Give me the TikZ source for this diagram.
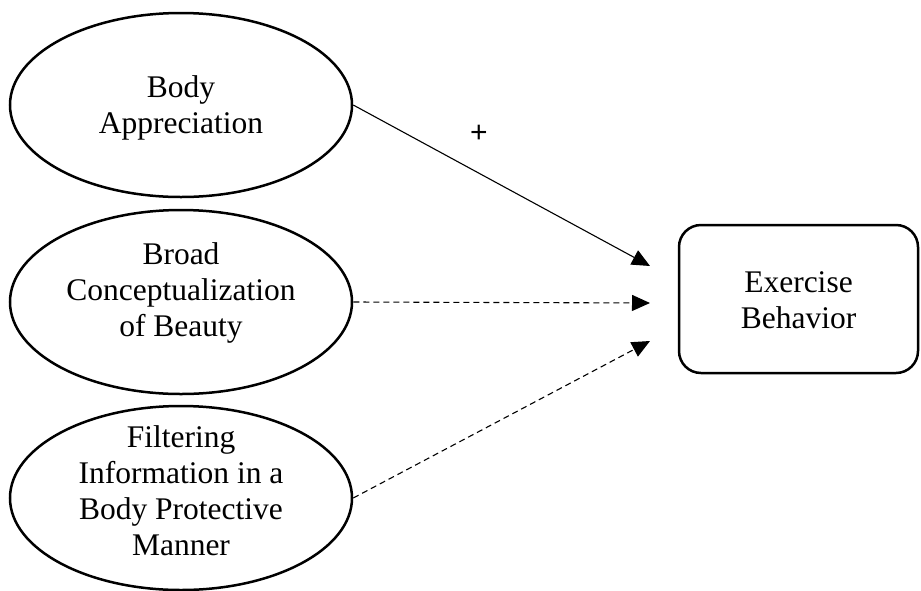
\documentclass[tikz,border=0pt]{standalone}
\usepackage{fontspec}
\setmainfont{Liberation Serif}
\newfontfamily\plusfont{Liberation Sans}
\usetikzlibrary{shapes.geometric,arrows.meta}
\begin{document}
\begin{tikzpicture}[x=1pt,y=-1pt,
  latent/.style={ellipse,draw,line width=2.5pt,minimum width=342pt,minimum height=184pt,inner sep=0pt},
  label text/.style={inner sep=0pt,align=center,font=\fontsize{31.5}{36}\selectfont},
  outcome/.style={rectangle,rounded corners=22pt,draw,line width=2.5pt,minimum width=239pt,minimum height=148pt,inner sep=0pt},
  path/.style={line width=1.1pt,-{Triangle[length=18pt,width=16pt]}},
  dpath/.style={path,dash pattern=on 6pt off 4pt}]
\useasboundingbox (0,0) rectangle (921,590);
\node[latent] (e1) at (181,105) {};
\node[latent] (e2) at (181,302) {};
\node[latent] (e3) at (181,498) {};
\node[outcome] (eb) at (798.5,299) {};
\node[label text] (t-e1) at (181,108) {Body\\Appreciation};
\node[label text] (t-e2) at (181,293) {Broad\\Conceptualization\\of Beauty};
\node[label text] (t-e3) at (181,491) {Filtering\\Information in a\\Body Protective\\Manner};
\node[label text] (t-eb) at (798.5,300) {Exercise\\Behavior};
\coordinate (t1) at (650,266);
\coordinate (t2) at (650,303);
\coordinate (t3) at (650,341);
\draw[path] (e1.east) -- (t1);
\draw[dpath] (e2.east) -- (t2);
\draw[dpath] (e3.east) -- (t3);
\node[inner sep=0pt] (plus) at (479,134) {\plusfont\fontsize{30}{34}\selectfont +};
\end{tikzpicture}
\end{document}
